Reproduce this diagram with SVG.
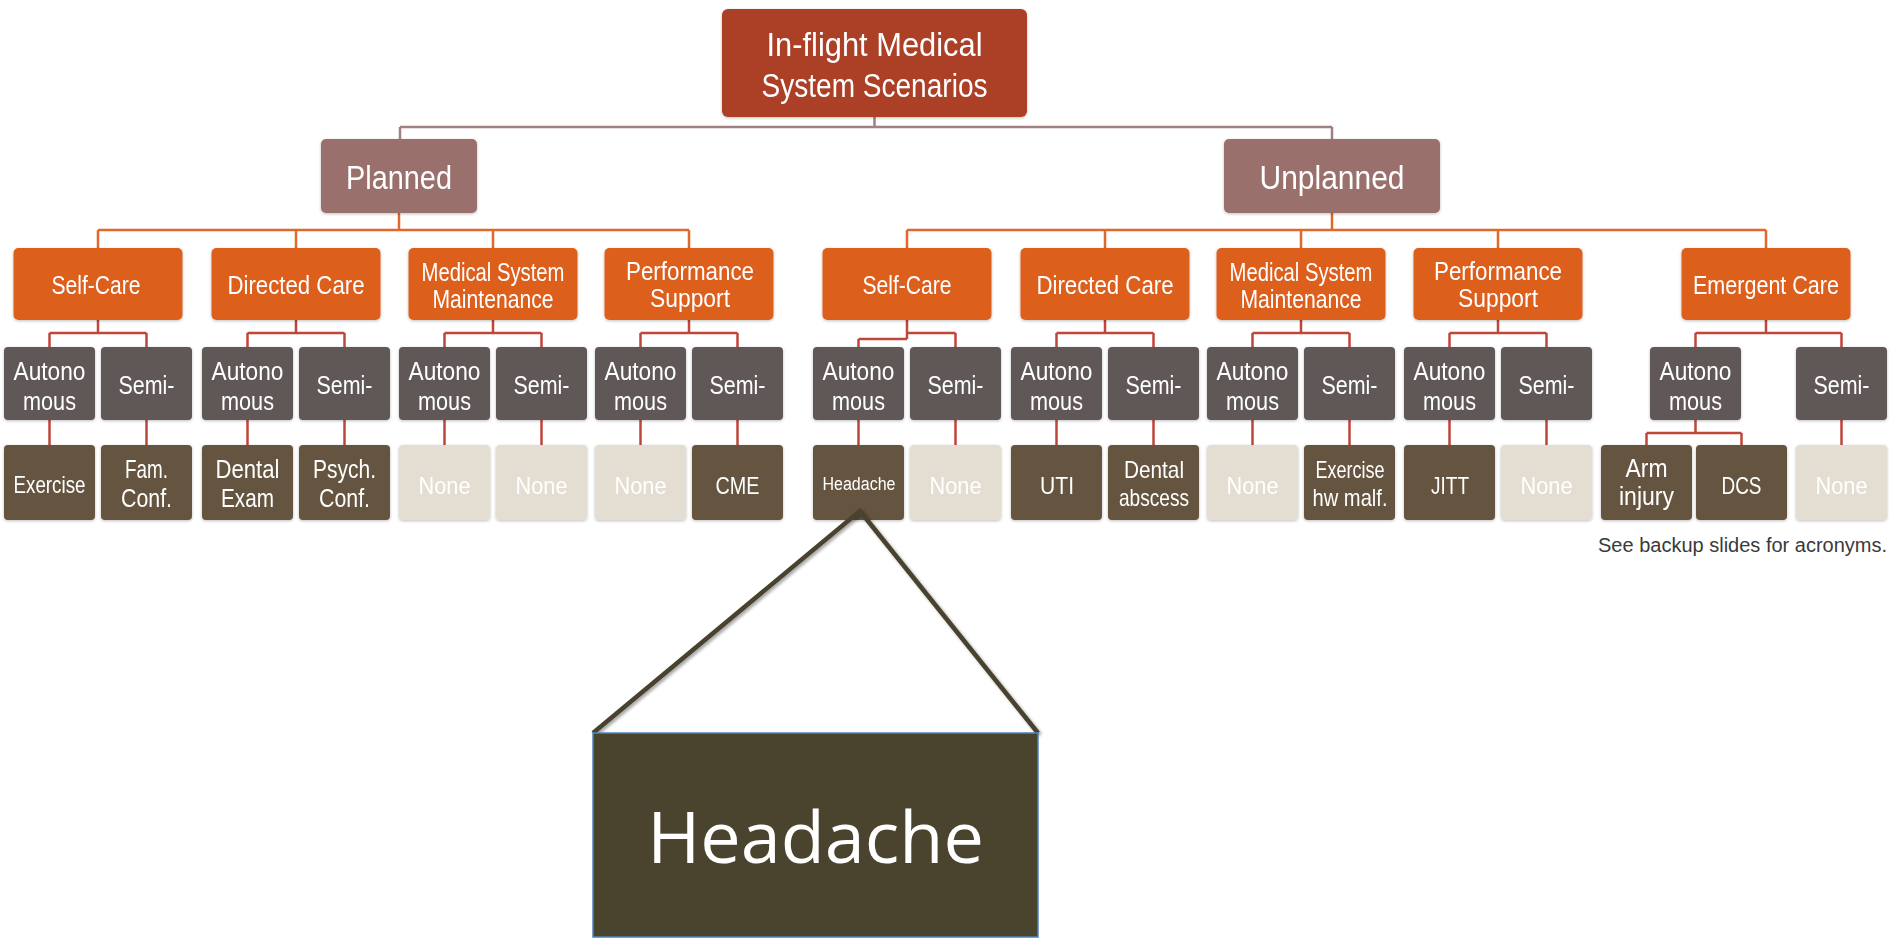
<svg xmlns="http://www.w3.org/2000/svg" width="1895" height="940" viewBox="0 0 1895 940">
  <defs>
    <filter id="soft" x="-10%" y="-10%" width="120%" height="130%">
      <feDropShadow dx="0" dy="1" stdDeviation="1.5" flood-color="#000" flood-opacity="0.25"/>
    </filter>
    <filter id="lineShadow" x="-10%" y="-10%" width="120%" height="120%">
      <feDropShadow dx="2" dy="2" stdDeviation="1.5" flood-color="#000" flood-opacity="0.35"/>
    </filter>
  </defs>
  <style>
    text { font-family: "Liberation Sans", Arial, sans-serif; fill: #ffffff; text-anchor: middle; }
    .root rect { fill: #AB3F28; }
    .cat rect { fill: #9A706D; }
    .sub rect { fill: #DD5E1F; }
    .mode rect { fill: #5E5957; }
    .leaf rect { fill: #65553F; }
    .empty rect { fill: #E4DED2; }
    .box { filter: url(#soft); }
    .t-root { font-size: 33px; }
    .t-cat { font-size: 33px; }
    .t-sub { font-size: 26px; }
    .t-sub2 { font-size: 25px; }
    .t-mode { font-size: 25px; }
    .t-leaf { font-size: 24px; }
    .t-leaf2 { font-size: 25px; }
    .t-small { font-size: 18px; }
    .c-root { stroke: #A08080; stroke-width: 2.5; fill: none; }
    .c-sub { stroke: #E2672A; stroke-width: 2.5; fill: none; }
    .c-mode { stroke: #C0463A; stroke-width: 2.5; fill: none; }
    .note { font-size: 20px; fill: #3A3A3A; text-anchor: start; }
    .zoom-line { stroke: #4A432E; stroke-width: 4.5; fill: none; stroke-linejoin: miter; filter: url(#lineShadow); }
    .zoom-box { fill: #4A432D; stroke: #4F81BD; stroke-width: 1.5; }
    .zoom-text { font-family: "Open Sans", "Liberation Sans", sans-serif; font-size: 72px; }
  </style>

  <!-- connectors -->
  <g id="connectors">
    <!-- root to categories -->
    <path class="c-root" d="M874.5 117 V127 M400 127 H1332 M400 127 V139 M1332 127 V139"/>
    <!-- Planned to its branches -->
    <path class="c-sub" d="M399 213 V230 M98 230 H689 M98 230 V248 M296 230 V248 M493 230 V248 M689 230 V248"/>
    <!-- Unplanned to its branches -->
    <path class="c-sub" d="M1332 213 V230 M907 230 H1766 M907 230 V248 M1105 230 V248 M1301 230 V248 M1498 230 V248 M1766 230 V248"/>
    <!-- branches to Autonomous / Semi- -->
    <path class="c-mode" d="M98 320 V333 M49.5 333 H146.5 M49.5 333 V347 M146.5 333 V347"/>
    <path class="c-mode" d="M296 320 V333 M247.5 333 H344.5 M247.5 333 V347 M344.5 333 V347"/>
    <path class="c-mode" d="M493 320 V333 M444.5 333 H541.5 M444.5 333 V347 M541.5 333 V347"/>
    <path class="c-mode" d="M689 320 V333 M640.5 333 H737.5 M640.5 333 V347 M737.5 333 V347"/>
    <path class="c-mode" d="M907 320 V339 M858.5 339 H907 M907 333 H955.5 M858.5 339 V347 M955.5 333 V347"/>
    <path class="c-mode" d="M1105 320 V333 M1056.5 333 H1153.5 M1056.5 333 V347 M1153.5 333 V347"/>
    <path class="c-mode" d="M1301 320 V333 M1252.5 333 H1349.5 M1252.5 333 V347 M1349.5 333 V347"/>
    <path class="c-mode" d="M1498 320 V333 M1449.5 333 H1546.5 M1449.5 333 V347 M1546.5 333 V347"/>
    <path class="c-mode" d="M1766 320 V333 M1695.5 333 H1841.5 M1695.5 333 V347 M1841.5 333 V347"/>
    <!-- modes to scenarios -->
    <path class="c-mode" d="M49.5 420 V445 M146.5 420 V445 M247.5 420 V445 M344.5 420 V445 M444.5 420 V445 M541.5 420 V445 M640.5 420 V445 M737.5 420 V445"/>
    <path class="c-mode" d="M858.5 420 V445 M955.5 420 V445 M1056.5 420 V445 M1153.5 420 V445 M1252.5 420 V445 M1349.5 420 V445 M1449.5 420 V445 M1546.5 420 V445 M1841.5 420 V445"/>
    <path class="c-mode" d="M1695.5 420 V433 M1646.5 433 H1741.5 M1646.5 433 V445 M1741.5 433 V445"/>
  </g>

  <!-- top level -->
  <g id="root" class="root box">
    <rect x="722" y="9" width="305" height="108" rx="6"/>
    <text class="t-root" x="874.5" y="56" textLength="216" lengthAdjust="spacingAndGlyphs">In-flight Medical</text>
    <text class="t-root" x="874.5" y="97" textLength="226" lengthAdjust="spacingAndGlyphs">System Scenarios</text>
  </g>

  <g id="planned" class="cat box">
    <rect x="321" y="139" width="156" height="74" rx="5"/>
    <text class="t-cat" x="399" y="189" textLength="106" lengthAdjust="spacingAndGlyphs">Planned</text>
  </g>
  <g id="unplanned" class="cat box">
    <rect x="1224" y="139" width="216" height="74" rx="5"/>
    <text class="t-cat" x="1332" y="189" textLength="145" lengthAdjust="spacingAndGlyphs">Unplanned</text>
  </g>

  <!-- care branches -->
  <g id="p-selfcare" class="sub box">
    <rect x="13.5" y="248" width="169" height="72" rx="5"/>
    <text class="t-sub" x="96" y="294" textLength="89" lengthAdjust="spacingAndGlyphs">Self-Care</text>
  </g>
  <g id="p-directed" class="sub box">
    <rect x="211.5" y="248" width="169" height="72" rx="5"/>
    <text class="t-sub" x="296" y="294" textLength="137" lengthAdjust="spacingAndGlyphs">Directed Care</text>
  </g>
  <g id="p-maintenance" class="sub box">
    <rect x="408.5" y="248" width="169" height="72" rx="5"/>
    <text class="t-sub2" x="493" y="281" textLength="143" lengthAdjust="spacingAndGlyphs">Medical System</text>
    <text class="t-sub2" x="493" y="308" textLength="121" lengthAdjust="spacingAndGlyphs">Maintenance</text>
  </g>
  <g id="p-performance" class="sub box">
    <rect x="604.5" y="248" width="169" height="72" rx="5"/>
    <text class="t-sub" x="690" y="280" textLength="128" lengthAdjust="spacingAndGlyphs">Performance</text>
    <text class="t-sub" x="690" y="307" textLength="80" lengthAdjust="spacingAndGlyphs">Support</text>
  </g>
  <g id="u-selfcare" class="sub box">
    <rect x="822.5" y="248" width="169" height="72" rx="5"/>
    <text class="t-sub" x="907" y="294" textLength="89" lengthAdjust="spacingAndGlyphs">Self-Care</text>
  </g>
  <g id="u-directed" class="sub box">
    <rect x="1020.5" y="248" width="169" height="72" rx="5"/>
    <text class="t-sub" x="1105" y="294" textLength="137" lengthAdjust="spacingAndGlyphs">Directed Care</text>
  </g>
  <g id="u-maintenance" class="sub box">
    <rect x="1216.5" y="248" width="169" height="72" rx="5"/>
    <text class="t-sub2" x="1301" y="281" textLength="143" lengthAdjust="spacingAndGlyphs">Medical System</text>
    <text class="t-sub2" x="1301" y="308" textLength="121" lengthAdjust="spacingAndGlyphs">Maintenance</text>
  </g>
  <g id="u-performance" class="sub box">
    <rect x="1413.5" y="248" width="169" height="72" rx="5"/>
    <text class="t-sub" x="1498" y="280" textLength="128" lengthAdjust="spacingAndGlyphs">Performance</text>
    <text class="t-sub" x="1498" y="307" textLength="80" lengthAdjust="spacingAndGlyphs">Support</text>
  </g>
  <g id="u-emergent" class="sub box">
    <rect x="1681.5" y="248" width="169" height="72" rx="5"/>
    <text class="t-sub" x="1766" y="294" textLength="146" lengthAdjust="spacingAndGlyphs">Emergent Care</text>
  </g>

  <!-- autonomy modes -->
  <g id="p1-auto" class="mode box"><rect x="4" y="347" width="91" height="73" rx="4"/><text class="t-mode" x="49.5" y="380" textLength="72" lengthAdjust="spacingAndGlyphs">Autono</text><text class="t-mode" x="49.5" y="410" textLength="53" lengthAdjust="spacingAndGlyphs">mous</text></g>
  <g id="p1-semi" class="mode box"><rect x="101" y="347" width="91" height="73" rx="4"/><text class="t-mode" x="146.5" y="394" textLength="56" lengthAdjust="spacingAndGlyphs">Semi-</text></g>
  <g id="p2-auto" class="mode box"><rect x="202" y="347" width="91" height="73" rx="4"/><text class="t-mode" x="247.5" y="380" textLength="72" lengthAdjust="spacingAndGlyphs">Autono</text><text class="t-mode" x="247.5" y="410" textLength="53" lengthAdjust="spacingAndGlyphs">mous</text></g>
  <g id="p2-semi" class="mode box"><rect x="299" y="347" width="91" height="73" rx="4"/><text class="t-mode" x="344.5" y="394" textLength="56" lengthAdjust="spacingAndGlyphs">Semi-</text></g>
  <g id="p3-auto" class="mode box"><rect x="399" y="347" width="91" height="73" rx="4"/><text class="t-mode" x="444.5" y="380" textLength="72" lengthAdjust="spacingAndGlyphs">Autono</text><text class="t-mode" x="444.5" y="410" textLength="53" lengthAdjust="spacingAndGlyphs">mous</text></g>
  <g id="p3-semi" class="mode box"><rect x="496" y="347" width="91" height="73" rx="4"/><text class="t-mode" x="541.5" y="394" textLength="56" lengthAdjust="spacingAndGlyphs">Semi-</text></g>
  <g id="p4-auto" class="mode box"><rect x="595" y="347" width="91" height="73" rx="4"/><text class="t-mode" x="640.5" y="380" textLength="72" lengthAdjust="spacingAndGlyphs">Autono</text><text class="t-mode" x="640.5" y="410" textLength="53" lengthAdjust="spacingAndGlyphs">mous</text></g>
  <g id="p4-semi" class="mode box"><rect x="692" y="347" width="91" height="73" rx="4"/><text class="t-mode" x="737.5" y="394" textLength="56" lengthAdjust="spacingAndGlyphs">Semi-</text></g>
  <g id="u1-auto" class="mode box"><rect x="813" y="347" width="91" height="73" rx="4"/><text class="t-mode" x="858.5" y="380" textLength="72" lengthAdjust="spacingAndGlyphs">Autono</text><text class="t-mode" x="858.5" y="410" textLength="53" lengthAdjust="spacingAndGlyphs">mous</text></g>
  <g id="u1-semi" class="mode box"><rect x="910" y="347" width="91" height="73" rx="4"/><text class="t-mode" x="955.5" y="394" textLength="56" lengthAdjust="spacingAndGlyphs">Semi-</text></g>
  <g id="u2-auto" class="mode box"><rect x="1011" y="347" width="91" height="73" rx="4"/><text class="t-mode" x="1056.5" y="380" textLength="72" lengthAdjust="spacingAndGlyphs">Autono</text><text class="t-mode" x="1056.5" y="410" textLength="53" lengthAdjust="spacingAndGlyphs">mous</text></g>
  <g id="u2-semi" class="mode box"><rect x="1108" y="347" width="91" height="73" rx="4"/><text class="t-mode" x="1153.5" y="394" textLength="56" lengthAdjust="spacingAndGlyphs">Semi-</text></g>
  <g id="u3-auto" class="mode box"><rect x="1207" y="347" width="91" height="73" rx="4"/><text class="t-mode" x="1252.5" y="380" textLength="72" lengthAdjust="spacingAndGlyphs">Autono</text><text class="t-mode" x="1252.5" y="410" textLength="53" lengthAdjust="spacingAndGlyphs">mous</text></g>
  <g id="u3-semi" class="mode box"><rect x="1304" y="347" width="91" height="73" rx="4"/><text class="t-mode" x="1349.5" y="394" textLength="56" lengthAdjust="spacingAndGlyphs">Semi-</text></g>
  <g id="u4-auto" class="mode box"><rect x="1404" y="347" width="91" height="73" rx="4"/><text class="t-mode" x="1449.5" y="380" textLength="72" lengthAdjust="spacingAndGlyphs">Autono</text><text class="t-mode" x="1449.5" y="410" textLength="53" lengthAdjust="spacingAndGlyphs">mous</text></g>
  <g id="u4-semi" class="mode box"><rect x="1501" y="347" width="91" height="73" rx="4"/><text class="t-mode" x="1546.5" y="394" textLength="56" lengthAdjust="spacingAndGlyphs">Semi-</text></g>
  <g id="u5-auto" class="mode box"><rect x="1650" y="347" width="91" height="73" rx="4"/><text class="t-mode" x="1695.5" y="380" textLength="72" lengthAdjust="spacingAndGlyphs">Autono</text><text class="t-mode" x="1695.5" y="410" textLength="53" lengthAdjust="spacingAndGlyphs">mous</text></g>
  <g id="u5-semi" class="mode box"><rect x="1796" y="347" width="91" height="73" rx="4"/><text class="t-mode" x="1841.5" y="394" textLength="56" lengthAdjust="spacingAndGlyphs">Semi-</text></g>

  <!-- scenarios -->
  <g id="s-exercise" class="leaf box"><rect x="4" y="445" width="91" height="75" rx="4"/><text class="t-leaf" x="49.5" y="493" textLength="72" lengthAdjust="spacingAndGlyphs">Exercise</text></g>
  <g id="s-famconf" class="leaf box"><rect x="101" y="445" width="91" height="75" rx="4"/><text class="t-leaf2" x="146.5" y="478" textLength="43" lengthAdjust="spacingAndGlyphs">Fam.</text><text class="t-leaf2" x="146.5" y="507" textLength="51" lengthAdjust="spacingAndGlyphs">Conf.</text></g>
  <g id="s-dentalexam" class="leaf box"><rect x="202" y="445" width="91" height="75" rx="4"/><text class="t-leaf2" x="247.5" y="478" textLength="64" lengthAdjust="spacingAndGlyphs">Dental</text><text class="t-leaf2" x="247.5" y="507" textLength="53" lengthAdjust="spacingAndGlyphs">Exam</text></g>
  <g id="s-psychconf" class="leaf box"><rect x="299" y="445" width="91" height="75" rx="4"/><text class="t-leaf2" x="344.5" y="478" textLength="63" lengthAdjust="spacingAndGlyphs">Psych.</text><text class="t-leaf2" x="344.5" y="507" textLength="51" lengthAdjust="spacingAndGlyphs">Conf.</text></g>
  <g id="s-none1" class="empty box"><rect x="399" y="445" width="91" height="75" rx="4"/><text class="t-leaf" x="444.5" y="494" textLength="52" lengthAdjust="spacingAndGlyphs">None</text></g>
  <g id="s-none2" class="empty box"><rect x="496" y="445" width="91" height="75" rx="4"/><text class="t-leaf" x="541.5" y="494" textLength="52" lengthAdjust="spacingAndGlyphs">None</text></g>
  <g id="s-none3" class="empty box"><rect x="595" y="445" width="91" height="75" rx="4"/><text class="t-leaf" x="640.5" y="494" textLength="52" lengthAdjust="spacingAndGlyphs">None</text></g>
  <g id="s-cme" class="leaf box"><rect x="692" y="445" width="91" height="75" rx="4"/><text class="t-leaf" x="737.5" y="494" textLength="44" lengthAdjust="spacingAndGlyphs">CME</text></g>
  <g id="s-headache" class="leaf box"><rect x="813" y="445" width="91" height="75" rx="4"/><text class="t-small" x="859" y="490" textLength="73" lengthAdjust="spacingAndGlyphs">Headache</text></g>
  <g id="s-none4" class="empty box"><rect x="910" y="445" width="91" height="75" rx="4"/><text class="t-leaf" x="955.5" y="494" textLength="52" lengthAdjust="spacingAndGlyphs">None</text></g>
  <g id="s-uti" class="leaf box"><rect x="1011" y="445" width="91" height="75" rx="4"/><text class="t-leaf" x="1057" y="494" textLength="34" lengthAdjust="spacingAndGlyphs">UTI</text></g>
  <g id="s-abscess" class="leaf box"><rect x="1108" y="445" width="91" height="75" rx="4"/><text class="t-leaf" x="1154" y="478" textLength="60" lengthAdjust="spacingAndGlyphs">Dental</text><text class="t-leaf" x="1154" y="506" textLength="70" lengthAdjust="spacingAndGlyphs">abscess</text></g>
  <g id="s-none5" class="empty box"><rect x="1207" y="445" width="91" height="75" rx="4"/><text class="t-leaf" x="1252.5" y="494" textLength="52" lengthAdjust="spacingAndGlyphs">None</text></g>
  <g id="s-hwmalf" class="leaf box"><rect x="1304" y="445" width="91" height="75" rx="4"/><text class="t-leaf" x="1350" y="478" textLength="69" lengthAdjust="spacingAndGlyphs">Exercise</text><text class="t-leaf" x="1350" y="506" textLength="75" lengthAdjust="spacingAndGlyphs">hw malf.</text></g>
  <g id="s-jitt" class="leaf box"><rect x="1404" y="445" width="91" height="75" rx="4"/><text class="t-leaf" x="1450" y="494" textLength="38" lengthAdjust="spacingAndGlyphs">JITT</text></g>
  <g id="s-none6" class="empty box"><rect x="1501" y="445" width="91" height="75" rx="4"/><text class="t-leaf" x="1546.5" y="494" textLength="52" lengthAdjust="spacingAndGlyphs">None</text></g>
  <g id="s-arm" class="leaf box"><rect x="1601" y="445" width="91" height="75" rx="4"/><text class="t-leaf2" x="1646.5" y="477" textLength="42" lengthAdjust="spacingAndGlyphs">Arm</text><text class="t-leaf2" x="1646.5" y="505" textLength="55" lengthAdjust="spacingAndGlyphs">injury</text></g>
  <g id="s-dcs" class="leaf box"><rect x="1696" y="445" width="91" height="75" rx="4"/><text class="t-leaf" x="1741.5" y="494" textLength="40" lengthAdjust="spacingAndGlyphs">DCS</text></g>
  <g id="s-none7" class="empty box"><rect x="1796" y="445" width="91" height="75" rx="4"/><text class="t-leaf" x="1841.5" y="494" textLength="52" lengthAdjust="spacingAndGlyphs">None</text></g>

  <text class="note" x="1598" y="552">See backup slides for acronyms.</text>

  <!-- enlarged Headache callout -->
  <g id="headache-callout">
    <polyline class="zoom-line" points="593,733 860,511 1038,733"/>
    <rect class="zoom-box" x="593" y="733" width="445" height="204"/>
    <text class="zoom-text" x="815.5" y="863">Headache</text>
  </g>
</svg>
